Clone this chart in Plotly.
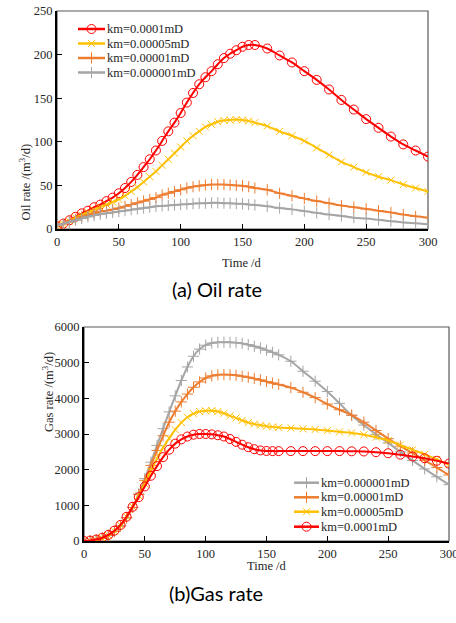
import plotly.graph_objects as go

# ---------------- data ----------------
t = [0, 5, 10, 15, 20, 25, 30, 35, 40, 45, 50, 55, 60, 65, 70, 75, 80, 85, 90, 95,
     100, 105, 110, 115, 120, 125, 130, 135, 140, 145, 150, 155, 160,
     170, 180, 190, 200, 210, 220, 230, 240, 250, 260, 270, 280, 290, 300]

labels = ["km=0.0001mD", "km=0.00005mD", "km=0.00001mD", "km=0.000001mD"]

oil_0001 = [3, 6, 10, 14, 18, 21, 25, 28, 32, 36, 41, 47, 54, 62, 71, 80, 90, 101, 112, 122,
            133, 145, 156, 166, 174, 181, 189, 196, 201, 205, 209, 211, 211,
            207, 199, 191, 181, 171, 160, 148, 137, 126, 116, 106, 97, 90, 83]
oil_00005 = [4, 6, 9, 13, 16, 19, 22, 25, 28, 31, 34, 38, 43, 48, 54, 60, 66, 73, 80, 87,
             94, 101, 107, 112, 117, 120, 123, 124.5, 125, 125.5, 125, 124, 122,
             118, 112, 107, 101, 93, 85, 77, 71, 65, 60, 56, 51, 47, 43]
oil_00001 = [4, 6, 8, 11, 14, 16, 18, 20, 21, 22.5, 24, 26, 28, 30, 32, 34, 36, 39, 41, 43,
             45, 47, 48.5, 49.5, 50.5, 51, 51, 51, 50.5, 50, 49.5, 48.5, 47,
             45, 41, 38, 35, 32, 29.5, 27, 25, 23, 21, 19, 16.5, 14.5, 13]
oil_000001 = [4, 6, 8, 10, 12, 14, 15.5, 17, 18, 19, 20, 21, 22, 23, 24, 25, 26, 26.5, 27, 27.5,
              28, 28.5, 29, 29.5, 29.5, 30, 30, 29.5, 29.5, 29, 29, 28, 27.5,
              26, 24, 22.5, 20.5, 18.5, 16.5, 15, 13, 12, 10.5, 9, 7.5, 6.5, 5.5]

gas_0001 = [0, 10, 40, 90, 170, 290, 450, 680, 960, 1230, 1530, 1830, 2100, 2350, 2560, 2730, 2850, 2930, 2980, 3000,
            3000, 2990, 2965, 2930, 2860, 2780, 2700, 2630, 2575, 2540, 2525, 2520, 2520,
            2520, 2520, 2520, 2520, 2520, 2515, 2510, 2490, 2460, 2420, 2370, 2320, 2250, 2170]
gas_00005 = [0, 5, 30, 80, 160, 280, 440, 680, 960, 1270, 1600, 1960, 2310, 2620, 2880, 3120, 3320, 3470, 3570, 3630,
             3650, 3655, 3630, 3580, 3510, 3450, 3380, 3320, 3280, 3245, 3220, 3200, 3185,
             3165, 3145, 3125, 3095, 3060, 3030, 2980, 2910, 2820, 2690, 2560, 2430, 2290, 2140]
gas_00001 = [0, 5, 30, 80, 160, 270, 420, 650, 940, 1300, 1700, 2120, 2540, 2950, 3330, 3640, 3900, 4120, 4310, 4460,
             4570, 4630, 4660, 4665, 4660, 4645, 4620, 4590, 4555, 4515, 4470, 4430, 4390,
             4300, 4170, 4020, 3840, 3680, 3530, 3330, 3100, 2870, 2660, 2470, 2260, 2060, 1850]
gas_000001 = [0, 5, 30, 80, 160, 270, 420, 650, 940, 1320, 1750, 2210, 2680, 3150, 3620, 4070, 4500, 4880, 5180, 5380,
              5490, 5550, 5570, 5575, 5570, 5560, 5540, 5505, 5460, 5410, 5350, 5290, 5220,
              5040, 4760, 4480, 4190, 3860, 3520, 3250, 2990, 2750, 2500, 2260, 2020, 1800, 1580]

x_ticks = [0, 50, 100, 150, 200, 250, 300]
oil_ticks = [0, 50, 100, 150, 200, 250]
gas_ticks = [0, 1000, 2000, 3000, 4000, 5000, 6000]

# ---------------- styles ----------------
colors = ["#FF0000", "#FFC000", "#ED7D31", "#A5A5A5"]
symbols = ["circle-open", "x-thin", "cross-thin", "cross-thin"]
msizes = [9, 7, 8, 8]
SERIF = "Liberation Serif, Times New Roman, serif"
TXT = "#262626"
W, H = 456, 623

def px(x):
    return x / W
def py(y):
    return 1 - y / H

def marker(i):
    return dict(symbol=symbols[i], size=msizes[i], color=colors[i],
                line=dict(color=colors[i], width=1))

fig = go.Figure()

oil_series = [oil_0001, oil_00005, oil_00001, oil_000001]
for i in range(4):
    fig.add_trace(go.Scatter(
        x=t, y=oil_series[i], name=labels[i], mode="lines+markers",
        line=dict(color=colors[i], width=2, shape="spline"), marker=marker(i),
        xaxis="x", yaxis="y", showlegend=False))

gas_series = [gas_0001, gas_00005, gas_00001, gas_000001]
for i in [3, 2, 1, 0]:
    fig.add_trace(go.Scatter(
        x=t, y=gas_series[i], name=labels[i], mode="lines+markers",
        line=dict(color=colors[i], width=2, shape="spline"), marker=marker(i),
        xaxis="x2", yaxis="y2", showlegend=False))

# ---- hand-made legends (pixel overlay axis) ----
annotations = []
def legend_block(x0, x1, x_text, rows, order):
    for r, i in zip(rows, order):
        fig.add_trace(go.Scatter(x=[x0, x1], y=[r, r], mode="lines",
                                 line=dict(color=colors[i], width=2.5),
                                 xaxis="x3", yaxis="y3", showlegend=False, hoverinfo="skip"))
        fig.add_trace(go.Scatter(x=[(x0 + x1) / 2], y=[r], mode="markers", marker=marker(i),
                                 xaxis="x3", yaxis="y3", showlegend=False, hoverinfo="skip"))
        annotations.append(dict(text=labels[i], x=x_text, y=r, xref="x3", yref="y3",
                                xanchor="left", yanchor="middle", showarrow=False,
                                font=dict(family=SERIF, size=12.5, color=TXT)))

legend_block(78, 105, 105, [29, 43.5, 58, 72.5], [0, 1, 2, 3])
legend_block(294, 319, 319, [482.7, 497.3, 511.7, 526.7], [3, 2, 1, 0])

axis_common = dict(showgrid=False, zeroline=False, showline=True, linecolor="black",
                   linewidth=2, ticks="inside", ticklen=5, tickwidth=1, tickcolor="black",
                   automargin=False, ticklabeloverflow="allow",
                   tickfont=dict(family=SERIF, size=12.5, color=TXT))

def ann(text, x, y, size=12.5, family=SERIF, angle=0, color=TXT):
    return dict(text=text, x=px(x), y=py(y), xref="paper", yref="paper", showarrow=False,
                textangle=angle, font=dict(family=family, size=size, color=color))

annotations += [
    ann("Time /d", 242, 263),
    ann("Time /d", 267, 575),
    ann("Oil rate /(m<sup>3</sup>/d)", 15, 142, angle=-90),
    ann("Gas rate /(m<sup>3</sup>/d)", 38, 434, angle=-90),
    ann("(a) Oil rate", 217, 289, size=20, family="Lato, Open Sans, sans-serif", color="black"),
    ann("(b)Gas rate", 216, 607, size=20, family="Lato, Open Sans, sans-serif", color="black"),
]

fig.update_layout(
    width=W, height=H, margin=dict(l=0, r=0, t=0, b=0, autoexpand=False),
    paper_bgcolor="white", plot_bgcolor="rgba(0,0,0,0)", showlegend=False,
    xaxis=dict(domain=[px(57), px(428)], anchor="y", range=[0, 300], tickvals=x_ticks, **axis_common),
    yaxis=dict(domain=[py(229), py(11)], anchor="x", range=[0, 250], tickvals=oil_ticks, **axis_common),
    xaxis2=dict(domain=[px(84), px(449)], anchor="y2", range=[0, 300], tickvals=x_ticks, **axis_common),
    yaxis2=dict(domain=[py(541), py(327)], anchor="x2", range=[0, 6000], tickvals=gas_ticks, **axis_common),
    xaxis3=dict(domain=[0, 1], anchor="y3", range=[0, W], visible=False, fixedrange=True),
    yaxis3=dict(domain=[0, 1], anchor="x3", range=[H, 0], visible=False, fixedrange=True),
    shapes=[
        dict(type="rect", xref="paper", yref="paper", x0=px(57), x1=px(428), y0=py(229), y1=py(11),
             line=dict(color="#595959", width=1.2), layer="below"),
        dict(type="rect", xref="paper", yref="paper", x0=px(84), x1=px(449), y0=py(541), y1=py(327),
             line=dict(color="#595959", width=1.2), layer="below"),
    ],
    annotations=annotations,
)

fig.write_html("out.html", config={"displayModeBar": False},
               post_script="document.body.style.margin='0';")
